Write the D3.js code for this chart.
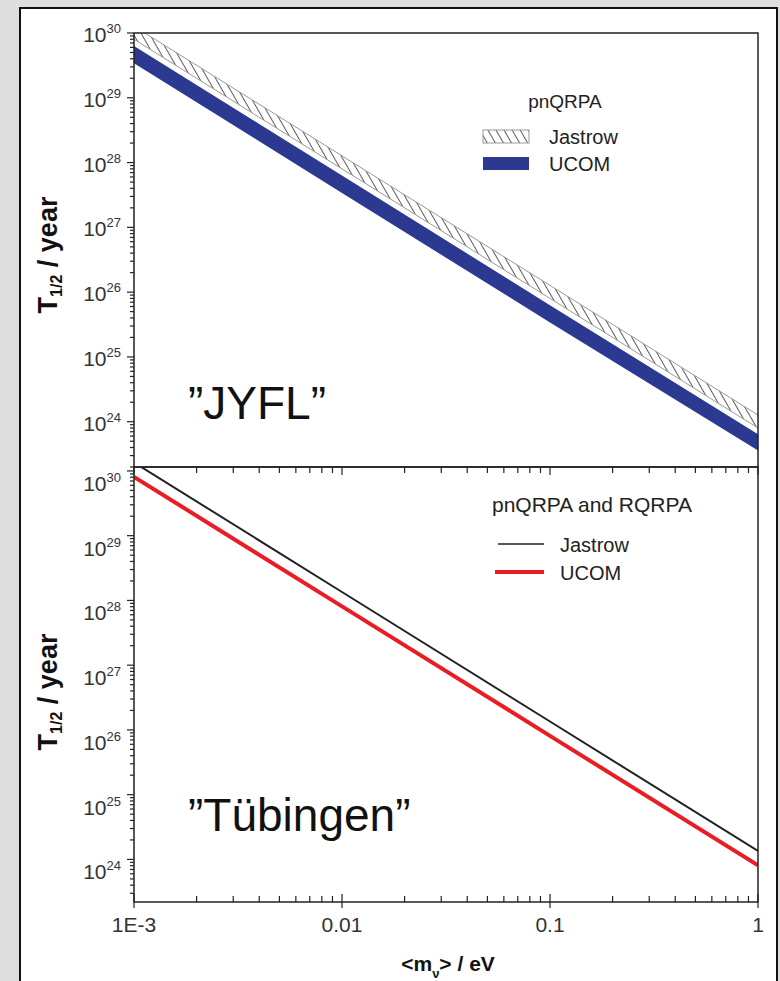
<!DOCTYPE html>
<html>
<head>
<meta charset="utf-8">
<script src="https://cdn.jsdelivr.net/npm/d3@7"></script>
<style>
  body { margin: 0; background: #dedede; }
  svg { display: block; font-family: "Liberation Sans", Arial, sans-serif; }
</style>
</head>
<body>
<svg id="chart" width="780" height="981"></svg>
<script>
var mass = [0.001, 0.01, 0.1, 1];

// "JYFL" panel: bands, lower and upper edge (years)
var jyflJastrowHi = [1.27e30, 1.27e28, 1.27e26, 1.27e24];
var jyflJastrowLo = [8.0e29, 8.0e27, 8.0e25, 8.0e23];
var jyflUcomHi = [6.3e29, 6.3e27, 6.3e25, 6.4e23];
var jyflUcomLo = [3.4e29, 3.4e27, 3.4e25, 3.6e23];

// "Tübingen" panel: lines
var tubJastrow = [1.35e30, 1.35e28, 1.35e26, 1.35e24];
var tubUcom = [8.1e29, 8.1e27, 8.1e25, 8.1e23];

var xTicks = [0.001, 0.01, 0.1, 1];
var xTickLabels = ["1E-3", "0.01", "0.1", "1"];
var yExponents = [24, 25, 26, 27, 28, 29, 30];

var svg = d3.select("#chart");
var left = 134, right = 758;

// frame
svg.append("rect")
    .attr("x", 20).attr("y", 8)
    .attr("width", 757).attr("height", 990)
    .attr("fill", "white")
    .attr("stroke", "#111")
    .attr("stroke-width", 2);

var x = d3.scaleLog().domain([1e-3, 1]).range([left, right]);
var yTop = d3.scaleLog().domain([2e23, 1e30]).range([467, 33]);
var yBot = d3.scaleLog().domain([2.2e23, 1.15e30]).range([902, 467]);

var defs = svg.append("defs");
var hatch = defs.append("pattern")
    .attr("id", "hatch")
    .attr("patternUnits", "userSpaceOnUse")
    .attr("width", 7).attr("height", 7)
    .attr("patternTransform", "rotate(-30)");
hatch.append("rect").attr("width", 7).attr("height", 7).attr("fill", "white");
hatch.append("line")
    .attr("x1", 0).attr("y1", 0).attr("x2", 0).attr("y2", 7)
    .attr("stroke", "#333").attr("stroke-width", 1.6);

function minorTicks() {
    var t = [];
    for (var e = -3; e < 0; e++) {
        for (var k = 1; k < 10; k++) t.push(k * Math.pow(10, e));
    }
    t.push(1);
    return t;
}

function yMinor(y) {
    var t = [];
    var d = y.domain();
    for (var e = 23; e <= 30; e++) {
        for (var k = 1; k < 10; k++) {
            var v = k * Math.pow(10, e);
            if (v >= d[0] && v <= d[1]) t.push(v);
        }
    }
    return t;
}

// labelShift: the lower panel's tick labels sit a bit under their ticks
function drawPanel(y, id, top, bottom, labelShift) {
    var g = svg.append("g");

    defs.append("clipPath").attr("id", id)
        .append("rect")
        .attr("x", left).attr("y", top)
        .attr("width", right - left).attr("height", bottom - top);

    // y ticks, outside on the left
    var ax = g.append("g");
    yMinor(y).forEach(function(v) {
        var major = Math.abs(Math.log10(v) - Math.round(Math.log10(v))) < 1e-9;
        ax.append("line")
            .attr("x1", left - (major ? 7 : 4)).attr("x2", left)
            .attr("y1", y(v)).attr("y2", y(v))
            .attr("stroke", "#222").attr("stroke-width", 1.2);
    });
    yExponents.forEach(function(e) {
        var v = Math.pow(10, e);
        if (v < y.domain()[0] || v > y.domain()[1]) return;
        var t = ax.append("text")
            .attr("x", 121).attr("y", y(v) + 9 + labelShift)
            .attr("text-anchor", "end")
            .attr("fill", "#333")
            .style("font-size", "21px");
        t.append("tspan").text("10");
        t.append("tspan").attr("dy", -9).style("font-size", "13px").text(e);
    });

    var clip = g.append("g").attr("clip-path", "url(#" + id + ")");
    return { g: g, clip: clip };
}

// top panel: bands
var p1 = drawPanel(yTop, "clipTop", 33, 467, 0);

var bandJ = d3.area()
    .x(function(d) { return x(d[0]); })
    .y0(function(d) { return yTop(d[1]); })
    .y1(function(d) { return yTop(d[2]); });

var jData = d3.zip(mass, jyflJastrowLo, jyflJastrowHi);
var uData = d3.zip(mass, jyflUcomLo, jyflUcomHi);

p1.clip.append("path")
    .attr("d", bandJ(jData))
    .attr("fill", "url(#hatch)");
[jyflJastrowLo, jyflJastrowHi].forEach(function(s) {
    p1.clip.append("path")
        .attr("d", d3.line().x(function(d) { return x(d[0]); }).y(function(d) { return yTop(d[1]); })(d3.zip(mass, s)))
        .attr("fill", "none").attr("stroke", "#999").attr("stroke-width", 1);
});
p1.clip.append("path")
    .attr("d", bandJ(uData))
    .attr("fill", "#2b3990");

// bottom panel: lines
var p2 = drawPanel(yBot, "clipBot", 467, 902, 11);
var lineB = d3.line()
    .x(function(d) { return x(d[0]); })
    .y(function(d) { return yBot(d[1]); });

p2.clip.append("path")
    .attr("d", lineB(d3.zip(mass, tubJastrow)))
    .attr("fill", "none").attr("stroke", "#222").attr("stroke-width", 2);
p2.clip.append("path")
    .attr("d", lineB(d3.zip(mass, tubUcom)))
    .attr("fill", "none").attr("stroke", "#ec1c24").attr("stroke-width", 4);

// x ticks
var xt = svg.append("g");
minorTicks().forEach(function(v) {
    var major = xTicks.indexOf(+v.toPrecision(6)) >= 0;
    // inside ticks on bottom of lower panel
    xt.append("line")
        .attr("x1", x(v)).attr("x2", x(v))
        .attr("y1", 902 - (major ? 8 : 6)).attr("y2", 902 + (major ? 6 : 0))
        .attr("stroke", "#222").attr("stroke-width", 1.2);
    // ticks hanging from the shared line
    xt.append("line")
        .attr("x1", x(v)).attr("x2", x(v))
        .attr("y1", 467).attr("y2", 467 + (major ? 8 : 6))
        .attr("stroke", "#222").attr("stroke-width", 1.2);
});
xTicks.forEach(function(v, i) {
    xt.append("text")
        .attr("x", x(v)).attr("y", 932)
        .attr("text-anchor", "middle")
        .attr("fill", "#333")
        .style("font-size", "21px")
        .text(xTickLabels[i]);
});

// panel boxes
[[33, 467], [467, 902]].forEach(function(b) {
    svg.append("rect")
        .attr("x", left).attr("y", b[0])
        .attr("width", right - left).attr("height", b[1] - b[0])
        .attr("fill", "none").attr("stroke", "#222").attr("stroke-width", 1.5);
});

// axis titles
[255, 692].forEach(function(cy) {
    var t = svg.append("text")
        .attr("transform", "translate(57," + cy + ") rotate(-90)")
        .attr("text-anchor", "middle")
        .attr("fill", "#111")
        .style("font-size", "27px")
        .style("font-weight", "bold");
    t.append("tspan").text("T");
    t.append("tspan").attr("dy", 5).style("font-size", "16px").text("1/2");
    t.append("tspan").attr("dy", -5).text(" / year");
});

var xt2 = svg.append("text")
    .attr("x", 448).attr("y", 971)
    .attr("text-anchor", "middle")
    .attr("fill", "#111")
    .style("font-size", "21px")
    .style("font-weight", "bold");
xt2.append("tspan").text("<m");
xt2.append("tspan").attr("dy", 7).style("font-size", "13px").text("ν");
xt2.append("tspan").attr("dy", -7).text("> / eV");

// legends
var lg1 = svg.append("g").attr("fill", "#222");
lg1.append("text").attr("x", 565).attr("y", 108).attr("text-anchor", "middle")
    .style("font-size", "19px").text("pnQRPA");
lg1.append("rect").attr("x", 483).attr("y", 130).attr("width", 46).attr("height", 13)
    .attr("fill", "url(#hatch)").attr("stroke", "#999").attr("stroke-width", 1);
lg1.append("text").attr("x", 549).attr("y", 144).style("font-size", "20px").text("Jastrow");
lg1.append("rect").attr("x", 483).attr("y", 157).attr("width", 46).attr("height", 13)
    .attr("fill", "#2b3990");
lg1.append("text").attr("x", 549).attr("y", 171).style("font-size", "20px").text("UCOM");

var lg2 = svg.append("g").attr("fill", "#222");
lg2.append("text").attr("x", 592).attr("y", 512).attr("text-anchor", "middle")
    .style("font-size", "21px").text("pnQRPA and RQRPA");
lg2.append("line").attr("x1", 498).attr("x2", 544).attr("y1", 544).attr("y2", 544)
    .attr("stroke", "#222").attr("stroke-width", 1.5);
lg2.append("text").attr("x", 560).attr("y", 552).style("font-size", "20px").text("Jastrow");
lg2.append("line").attr("x1", 495).attr("x2", 544).attr("y1", 572).attr("y2", 572)
    .attr("stroke", "#ec1c24").attr("stroke-width", 4);
lg2.append("text").attr("x", 560).attr("y", 580).style("font-size", "20px").text("UCOM");

// big panel names
svg.append("text").attr("x", 188).attr("y", 419)
    .style("font-size", "46px").attr("fill", "#111").text("”JYFL”");
svg.append("text").attr("x", 188).attr("y", 831)
    .style("font-size", "46px").attr("fill", "#111").text("”Tübingen”");
</script>
</body>
</html>
